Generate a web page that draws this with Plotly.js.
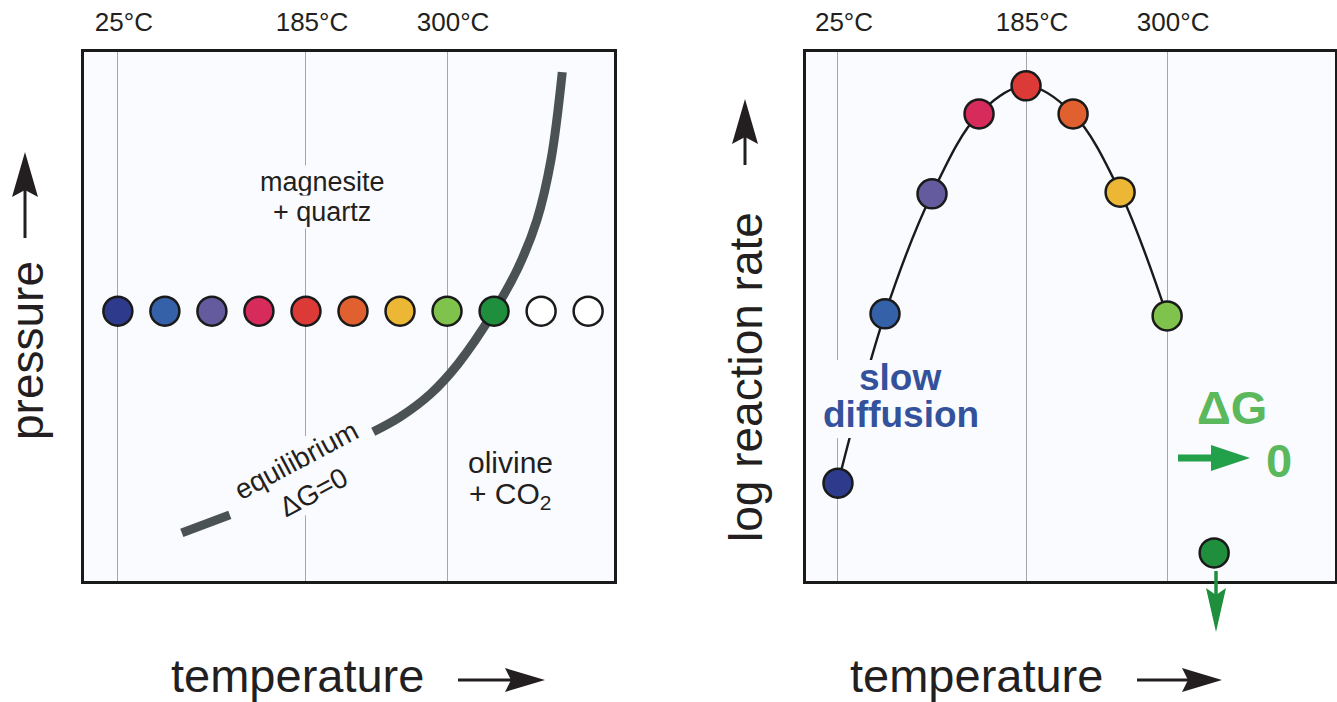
<!DOCTYPE html>
<html><head><meta charset="utf-8">
<script src="https://cdn.plot.ly/plotly-3.0.1.min.js"></script>
<style>html,body{margin:0;padding:0;background:#fff}#chart{width:1337px;height:702px}</style>
</head><body><div id="chart"></div>
<script>
// ---------- data ----------
const tempTickVals = [0, 4, 7];
const tempTickText = ['25°C', '185°C', '300°C'];
const sampleColors = ['#2e3a8c', '#3561a8', '#645b9e', '#d72b5b', '#dc3a36', '#e0612f', '#ecb734', '#7fc24c', '#1f8f3e', '#ffffff', '#ffffff'];
const sampleTemp = [0, 1, 2, 3, 4, 5, 6, 7, 8, 9, 10];
const samplePressure = [51, 51, 51, 51, 51, 51, 51, 51, 51, 51, 51];
const eqTemp = [1.36, 2.38, null, 5.43, 6.00, 6.64, 7.23, 8.00, 8.51, 8.91, 9.21, 9.45];
const eqPressure = [9.1, 12.5, null, 28.2, 31.0, 35.3, 41.0, 51.0, 59.2, 68.2, 79.6, 96.2];
const rateTemp = [0, 1, 2, 3, 4, 5, 6, 7];
const logRate = [18.5, 50.5, 73.2, 88.3, 93.6, 88.3, 73.5, 50.1];
const rateColors = ['#2e3a8c', '#3561a8', '#645b9e', '#d72b5b', '#dc3a36', '#e0612f', '#ecb734', '#7fc24c'];
const stalledTemp = [8];
const stalledRate = [5.3];
const stalledColor = ['#1f8f3e'];

// ---------- layout helpers ----------
const W = 1337, H = 702;
const px = x => x / W, py = y => 1 - y / H;
const FONT = "'Liberation Sans', Arial, Helvetica, sans-serif";
const INK = '#231f20';
const BG = '#fafbfe';

function arrow(x1, y1, x2, y2, headLen, half, notch, shaftW, color) {
  const L = Math.hypot(x2 - x1, y2 - y1);
  const dx = (x2 - x1) / L, dy = (y2 - y1) / L;
  const nx = -dy, ny = dx;
  const bx = x2 - dx * headLen, by = y2 - dy * headLen;
  const nxp = bx + dx * notch, nyp = by + dy * notch;
  const p = (x, y) => `${px(x)},${py(y)}`;
  return [
    {type: 'line', xref: 'paper', yref: 'paper', x0: px(x1), y0: py(y1), x1: px(nxp + dx * 2), y1: py(nyp + dy * 2),
     line: {color: color, width: shaftW}},
    {type: 'path', xref: 'paper', yref: 'paper',
     path: `M ${p(x2, y2)} L ${p(bx + nx * half, by + ny * half)} L ${p(nxp, nyp)} L ${p(bx - nx * half, by - ny * half)} Z`,
     fillcolor: color, line: {width: 0}}
  ];
}

const boxAxis = {showline: true, mirror: true, linecolor: '#1a1a1a', linewidth: 3, zeroline: false, fixedrange: true};
const xCommon = Object.assign({}, boxAxis, {
  side: 'top', tickmode: 'array', tickvals: tempTickVals, ticktext: tempTickText, ticks: '',
  showgrid: true, gridcolor: '#a6a6a6', gridwidth: 1,
  tickfont: {family: FONT, size: 26, color: INK}, ticklabelstandoff: 8, ticklabelshift: 6
});
const yCommon = Object.assign({}, boxAxis, {range: [0, 100], showticklabels: false, showgrid: false, ticks: ''});

const traces = [
  {x: eqTemp, y: eqPressure, xaxis: 'x', yaxis: 'y', mode: 'lines', line: {color: '#4b5254', width: 9, shape: 'spline', smoothing: 1}, connectgaps: false, hoverinfo: 'skip'},
  {x: sampleTemp, y: samplePressure, xaxis: 'x', yaxis: 'y', mode: 'markers', marker: {size: 29, color: sampleColors, line: {color: '#1a1a1a', width: 2.5}}, hoverinfo: 'skip'},
  {x: rateTemp, y: logRate, xaxis: 'x2', yaxis: 'y2', mode: 'lines', line: {color: '#1a1a1a', width: 2.4, shape: 'spline', smoothing: 1}, hoverinfo: 'skip'},
  {x: rateTemp, y: logRate, xaxis: 'x2', yaxis: 'y2', mode: 'markers', marker: {size: 29, color: rateColors, line: {color: '#1a1a1a', width: 2.5}}, hoverinfo: 'skip'},
  {x: stalledTemp, y: stalledRate, xaxis: 'x2', yaxis: 'y2', mode: 'markers', marker: {size: 29, color: stalledColor, line: {color: '#1a1a1a', width: 2.5}}, hoverinfo: 'skip', cliponaxis: false}
];

const shapes = [].concat(
  [{type: 'rect', xref: 'paper', yref: 'paper', x0: px(816), x1: px(988), y0: py(438), y1: py(360), fillcolor: BG, line: {width: 0}, layer: 'above'}],
  arrow(25, 238, 25, 152, 45, 13, 7, 3, INK),
  arrow(745, 165, 745, 99, 45, 13, 7, 3, INK),
  arrow(458, 680, 545, 680, 40, 12, 6, 3, INK),
  arrow(1137, 680, 1222, 680, 40, 12, 6, 3, INK),
  arrow(1178, 458, 1250, 458, 39, 13, 0, 7, '#22a04a'),
  arrow(1216, 571, 1216, 632, 44, 10, 7, 3.5, '#1f8f3e')
);

const ann = (x, y, text, size, extra) => Object.assign({
  xref: 'paper', yref: 'paper', x: px(x), y: py(y), text: text, showarrow: false,
  xanchor: 'center', yanchor: 'middle', font: {family: FONT, size: size, color: INK}
}, extra || {});
const boldFont = (size, color) => ({font: {family: FONT, size: size, color: color, weight: 'bold'}});

const annotations = [
  ann(322, 182, 'magnesite', 27, {bgcolor: BG}),
  ann(322, 212, '+ quartz', 27, {bgcolor: BG}),
  ann(510, 462, 'olivine', 30),
  ann(510, 495, '+ CO<sub>2</sub>', 30),
  ann(304, 476, 'equilibrium<br>ΔG=0', 28, {textangle: -28, bgcolor: BG}),
  ann(27, 351, 'pressure', 46, {textangle: -90}),
  ann(746, 377, 'log reaction rate', 46, {textangle: -90}),
  ann(297, 675, 'temperature', 47),
  ann(977, 675, 'temperature', 47),
  ann(900, 377, 'slow', 37, boldFont(37, '#34519c')),
  ann(901, 414, 'diffusion', 37, boldFont(37, '#34519c')),
  ann(1232, 407, 'ΔG', 47, boldFont(47, '#5cb85c')),
  ann(1279, 460, '0', 47, boldFont(47, '#5cb85c'))
];

const layout = {
  width: W, height: H, margin: {l: 0, r: 0, t: 0, b: 0},
  paper_bgcolor: '#ffffff', plot_bgcolor: BG, showlegend: false, hovermode: false,
  xaxis: Object.assign({}, xCommon, {domain: [px(84), px(614)], range: [-0.72, 10.55], anchor: 'y'}),
  yaxis: Object.assign({}, yCommon, {domain: [py(581), py(52)], anchor: 'x'}),
  xaxis2: Object.assign({}, xCommon, {domain: [px(806), px(1335)], range: [-0.68, 10.57], anchor: 'y2'}),
  yaxis2: Object.assign({}, yCommon, {domain: [py(581), py(52)], anchor: 'x2'}),
  shapes: shapes, annotations: annotations
};

Plotly.newPlot('chart', traces, layout, {staticPlot: true, displayModeBar: false});
</script>
</body></html>
